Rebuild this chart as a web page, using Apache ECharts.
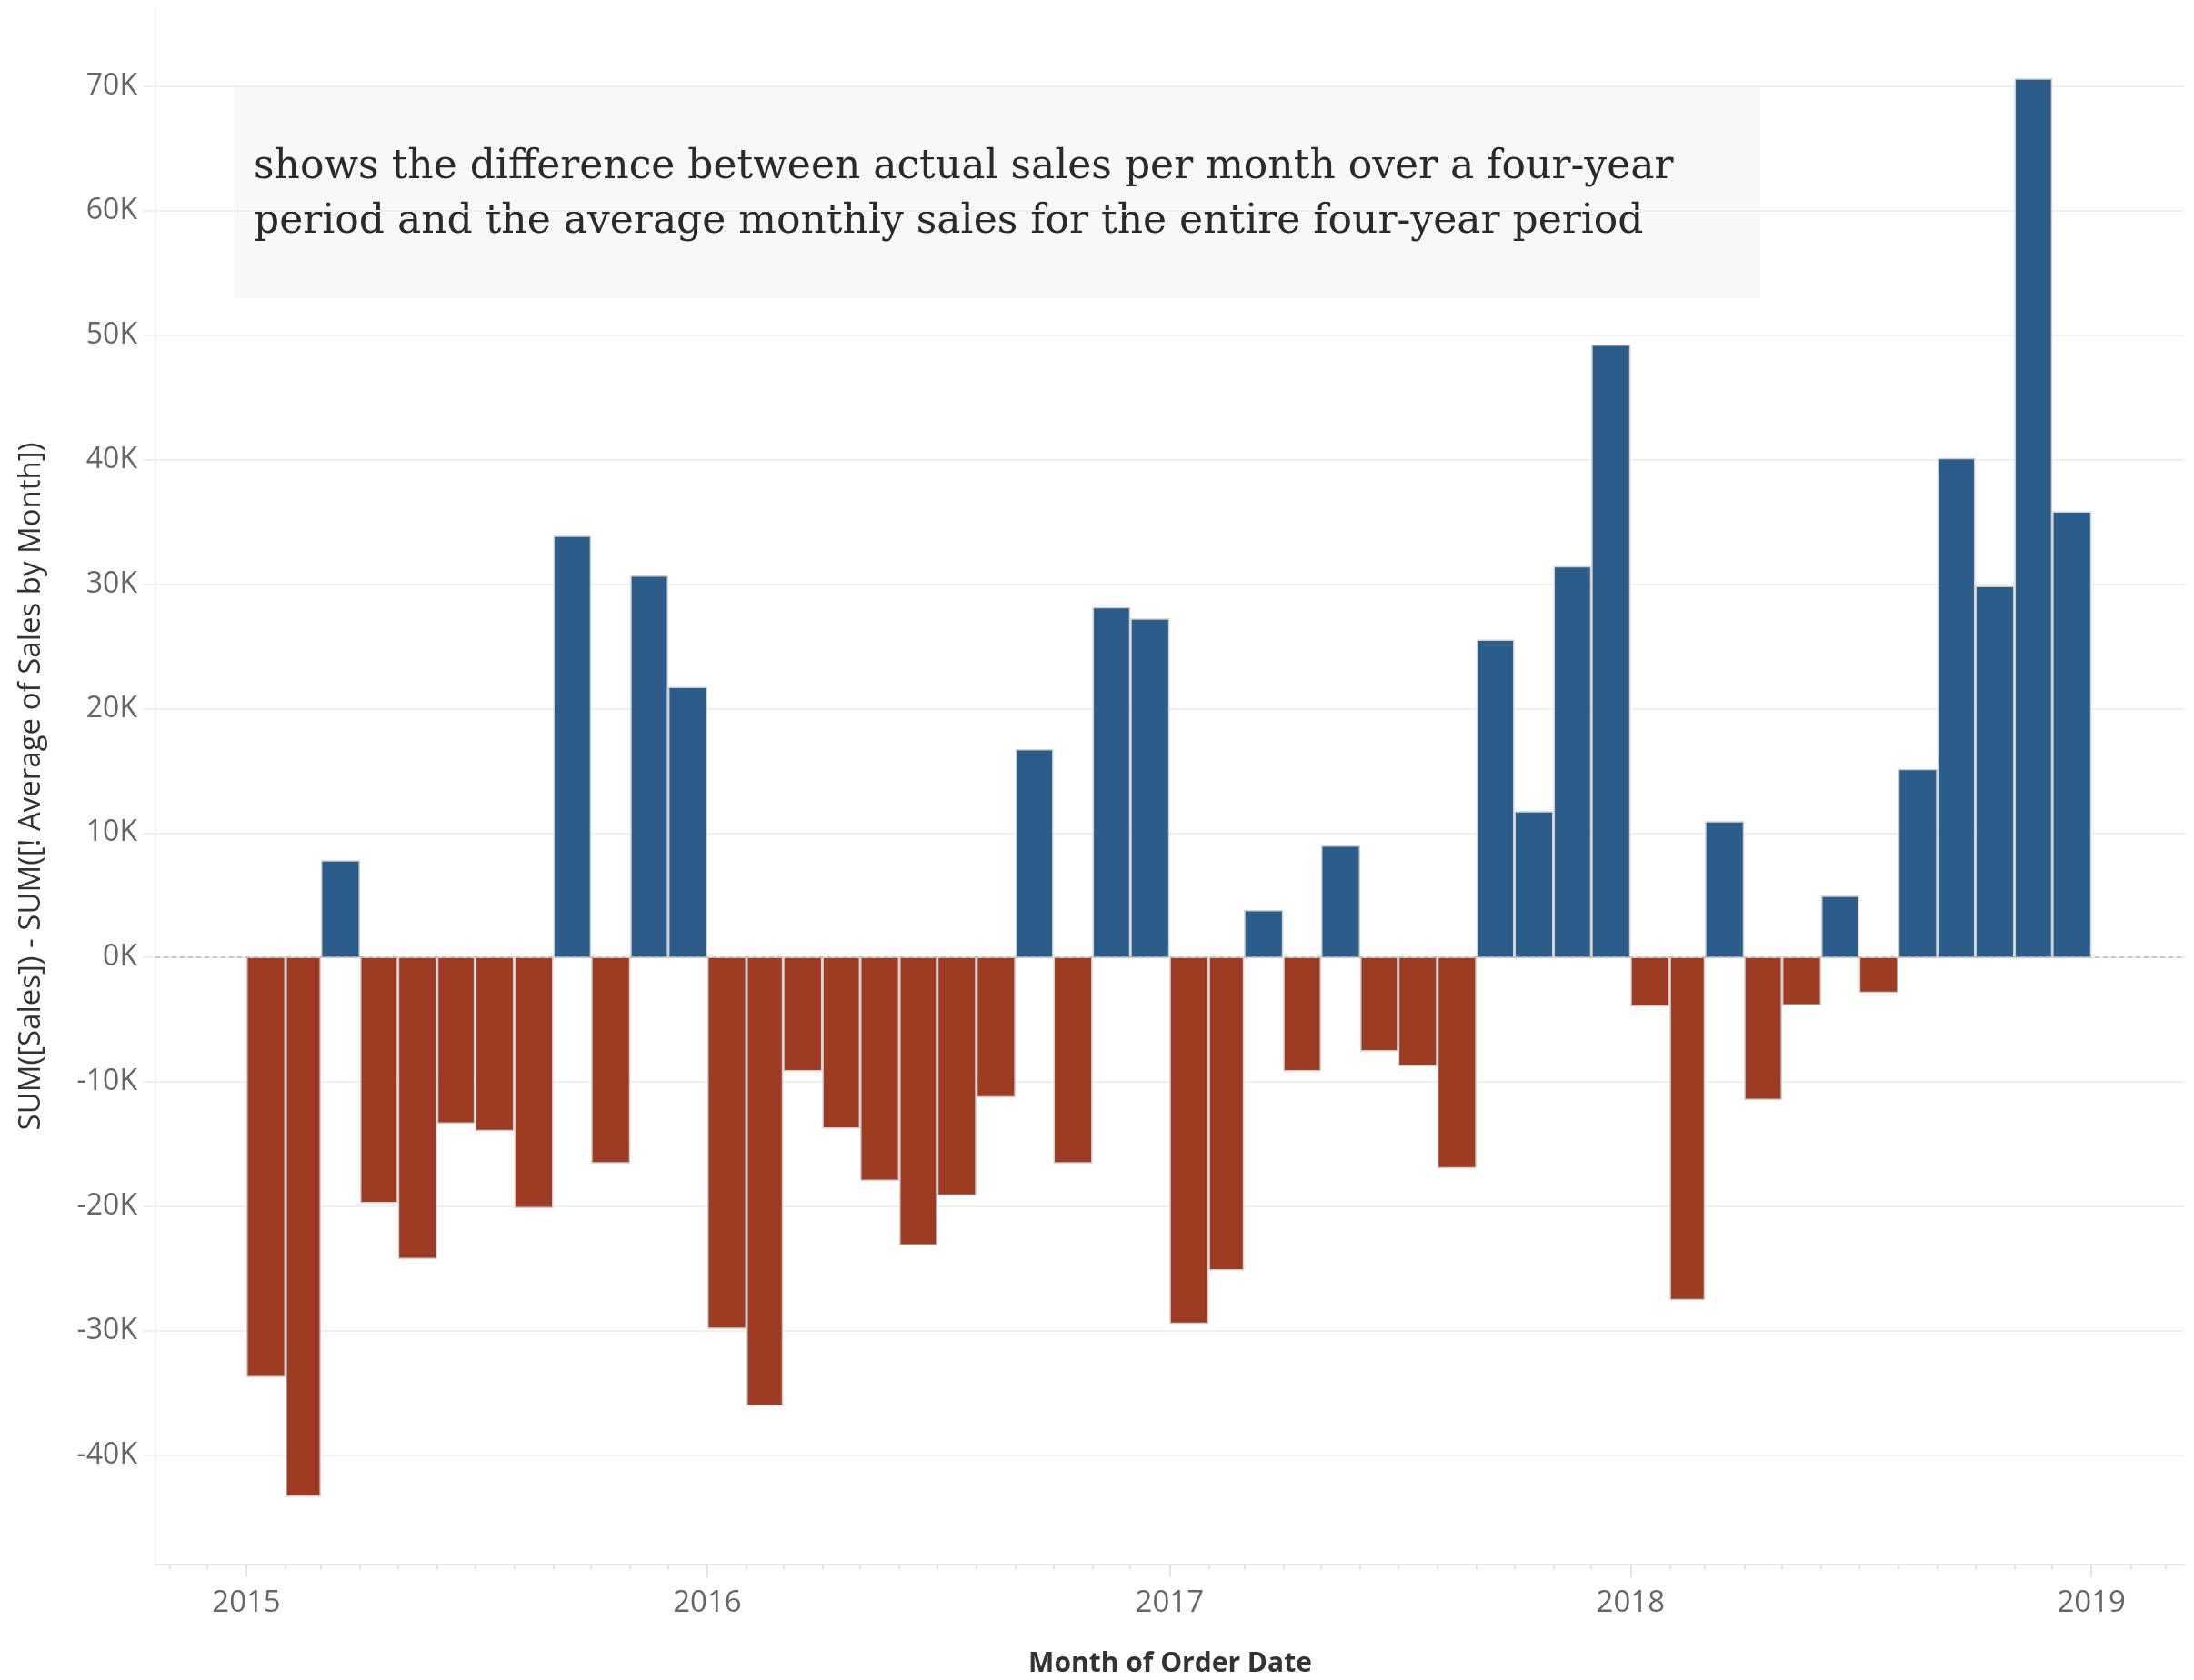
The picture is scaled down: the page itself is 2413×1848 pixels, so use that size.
<!DOCTYPE html>
<html>
<head>
<meta charset="utf-8">
<script src="https://cdn.jsdelivr.net/npm/echarts@6/dist/echarts.min.js"></script>
<style>
  html, body { margin: 0; padding: 0; background: #ffffff; }
  #chart { width: 2413px; height: 1848px; }
</style>
</head>
<body>
<div id="chart"></div>
<script>
// Monthly sales minus the four-year monthly average, Jan 2015 – Dec 2018
const months = [
  '2015-01','2015-02','2015-03','2015-04','2015-05','2015-06','2015-07','2015-08','2015-09','2015-10','2015-11','2015-12',
  '2016-01','2016-02','2016-03','2016-04','2016-05','2016-06','2016-07','2016-08','2016-09','2016-10','2016-11','2016-12',
  '2017-01','2017-02','2017-03','2017-04','2017-05','2017-06','2017-07','2017-08','2017-09','2017-10','2017-11','2017-12',
  '2018-01','2018-02','2018-03','2018-04','2018-05','2018-06','2018-07','2018-08','2018-09','2018-10','2018-11','2018-12'
];
const diffFromAverage = [
  -33700, -43300,   7750, -19700, -24200, -13300, -13900, -20100,  33850, -16500,  30650,  21700,
  -29800, -36000,  -9100, -13700, -17900, -23100, -19100, -11200,  16700, -16500,  28100,  27200,
  -29400, -25100,   3750,  -9100,   8950,  -7500,  -8700, -16900,  25500,  11700,  31400,  49200,
   -3900, -27500,  10900, -11400,  -3800,   4900,  -2800,  15100,  40100,  29800,  70600,  35800
];
const yTickValues = [-40000, -30000, -20000, -10000, 0, 10000, 20000, 30000, 40000, 50000, 60000, 70000];
const yearTicks = ['2015-01', '2016-01', '2017-01', '2018-01', '2019-01'];
const monthTicks = [
  '2014-11','2014-12',
  ...months,
  '2019-01','2019-02','2019-03'
];
const noteText = 'shows the difference between actual sales per month over a four-year\nperiod and the average monthly sales for the entire four-year period';
const yAxisTitle = 'SUM([Sales]) - SUM([! Average of Sales by Month])';
const xAxisTitle = 'Month of Order Date';

function monthStart(ym) {
  const [y, m] = ym.split('-').map(Number);
  return Date.UTC(y, m - 1, 1);
}
function nextMonthStart(ym) {
  const [y, m] = ym.split('-').map(Number);
  return Date.UTC(y, m, 1);
}

const barData = months.map((m, i) => [monthStart(m), diffFromAverage[i], nextMonthStart(m)]);

const POS = '#2c5c89';
const NEG = '#9e3c23';

const chart = echarts.init(document.getElementById('chart'), null, { renderer: 'canvas' });

// the date axis runs on millisecond timestamps
const xMin = Date.UTC(2014, 9, 21);
const xMax = Date.UTC(2019, 2, 16);

const option = {
  backgroundColor: '#ffffff',
  animation: false,
  grid: {
    left: 171, right: 10, top: 9, bottom: 127,
    containLabel: false,
    outerBoundsMode: 'none'
  },
  xAxis: [
    {
      type: 'value',
      min: xMin,
      max: xMax,
      position: 'bottom',
      name: xAxisTitle,
      nameLocation: 'middle',
      nameGap: 94,
      nameTextStyle: { fontFamily: 'Open Sans', fontWeight: 'bold', fontSize: 30, color: '#333333' },
      axisLine: { show: true, onZero: false, lineStyle: { color: '#e8e8e8', width: 2 } },
      axisTick: {
        show: true, length: 14,
        customValues: yearTicks.map(monthStart),
        lineStyle: { color: '#dddddd', width: 1.5 }
      },
      axisLabel: {
        show: true,
        customValues: yearTicks.map(monthStart),
        margin: 26,
        fontFamily: 'Open Sans', fontSize: 33, color: '#666666',
        formatter: v => String(new Date(v).getUTCFullYear())
      },
      splitLine: { show: false }
    },
    {
      type: 'value',
      min: xMin,
      max: xMax,
      position: 'bottom',
      axisLine: { show: false, onZero: false },
      axisTick: {
        show: true, length: 6,
        customValues: monthTicks.map(monthStart),
        lineStyle: { color: '#e0e0e0', width: 1.5 }
      },
      axisLabel: { show: false },
      splitLine: { show: false }
    }
  ],
  yAxis: {
    type: 'value',
    min: -48800,
    max: 76300,
    name: yAxisTitle,
    nameLocation: 'middle',
    nameGap: 120,
    nameRotate: 90,
    nameTextStyle: { fontFamily: 'Open Sans', fontSize: 33, color: '#333333' },
    axisLine: { show: true, onZero: false, lineStyle: { color: '#eeeeee', width: 1.5 } },
    axisTick: {
      show: true, length: 14,
      customValues: yTickValues,
      lineStyle: { color: '#efefef', width: 2 }
    },
    axisLabel: {
      show: true,
      customValues: yTickValues,
      margin: 20,
      fontFamily: 'Open Sans', fontSize: 32, color: '#666666',
      formatter: v => (v / 1000) + 'K'
    },
    splitLine: { show: true, lineStyle: { color: '#f0f0f0', width: 2 } }
  },
  graphic: [
    {
      type: 'group',
      z: 50,
      children: [
        {
          type: 'rect',
          shape: { x: 257, y: 95, width: 1679, height: 233 },
          style: { fill: '#f8f8f8' }
        },
        {
          type: 'text',
          x: 279,
          y: 215,
          style: {
            text: noteText,
            fontFamily: 'DejaVu Serif',
            fontSize: 44,
            lineHeight: 60,
            fill: '#2a2a2a',
            verticalAlign: 'middle',
            align: 'left'
          }
        }
      ]
    }
  ],
  series: [
    {
      type: 'line',
      data: [],
      z: 1,
      silent: true,
      markLine: {
        silent: true,
        symbol: 'none',
        label: { show: false },
        lineStyle: { color: '#b8b8b8', type: [5, 4], width: 1.5 },
        data: [{ yAxis: 0 }]
      }
    },
    {
      type: 'custom',
      z: 3,
      xAxisIndex: 0,
      data: barData,
      encode: { x: [0, 2], y: 1 },
      renderItem: function (params, api) {
        const start = api.value(0);
        const val = api.value(1);
        const end = api.value(2);
        const p0 = api.coord([start, val]);
        const p1 = api.coord([end, 0]);
        const x = p0[0];
        const w = p1[0] - p0[0];
        const y = Math.min(p0[1], p1[1]);
        const h = Math.abs(p1[1] - p0[1]);
        return {
          type: 'rect',
          shape: { x: x + 0.75, y: y, width: w - 1.5, height: h },
          style: {
            fill: val >= 0 ? POS : NEG,
            stroke: '#d0d0d0',
            lineWidth: 1.5
          }
        };
      }
    }
  ]
};

chart.setOption(option);
</script>
</body>
</html>
